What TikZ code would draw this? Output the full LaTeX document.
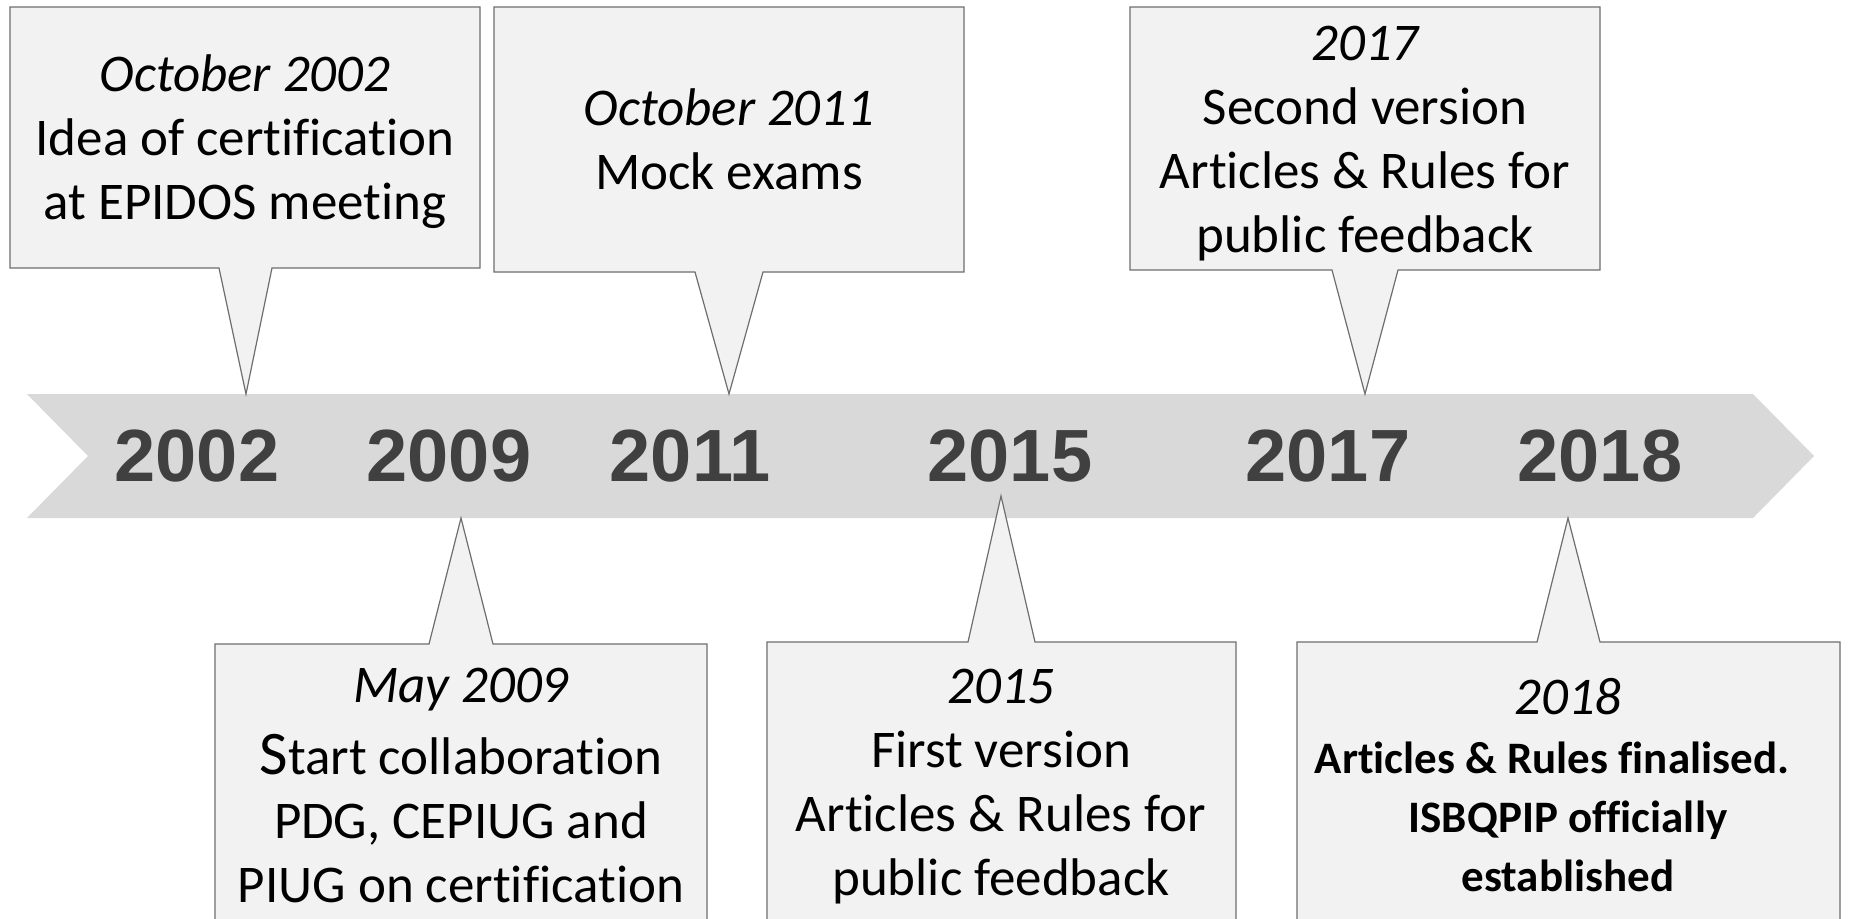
\documentclass[tikz,border=0pt]{standalone}
\usepackage{fontspec}
\setmainfont{Carlito}[Ligatures=NoCommon]
\newfontfamily\yearfont{Liberation Sans}
\definecolor{boxfill}{HTML}{F2F2F2}
\definecolor{boxline}{HTML}{6E6E6E}
\definecolor{bannerfill}{HTML}{D9D9D9}
\definecolor{yeargray}{HTML}{404040}
\begin{document}
\begin{tikzpicture}[x=0.5pt,y=-0.5pt,
  callout/.style={fill=boxfill,draw=boxline,line width=0.6pt,line join=miter},
  txt/.style={font=\fontsize{26.5}{32}\selectfont,align=center,anchor=base,inner sep=0pt,text=black},
  boldtxt/.style={font=\bfseries\fontsize{22.5}{29.5}\selectfont,align=center,anchor=base,inner sep=0pt,text=black},
  yr/.style={font=\yearfont\bfseries\fontsize{37}{37}\selectfont,text=yeargray,anchor=base,inner sep=0pt}]
\clip (0,0) rectangle (1853,918);
\fill[white] (0,0) rectangle (1853,918);
% banner
\fill[bannerfill] (27,394) -- (1753,394) -- (1814,456) -- (1753,518) -- (27,518) -- (88,456) -- cycle;
% tips
\coordinate (tip1) at (246,394);
\coordinate (tip2) at (729,394);
\coordinate (tip3) at (1365,394);
\coordinate (tip4) at (461,518);
\coordinate (tip5) at (1001,496);
\coordinate (tip6) at (1568,518);
% top callouts
\draw[callout] (10,7) -- (480,7) -- (480,268) -- (272,268) -- (tip1) -- (219,268) -- (10,268) -- cycle;
\draw[callout] (494,7) -- (964,7) -- (964,272) -- (763,272) -- (tip2) -- (695,272) -- (494,272) -- cycle;
\draw[callout] (1130,7) -- (1600,7) -- (1600,270) -- (1398,270) -- (tip3) -- (1332,270) -- (1130,270) -- cycle;
% bottom callouts
\draw[callout] (215,940) -- (215,644) -- (429,644) -- (tip4) -- (493,644) -- (707,644) -- (707,940) -- cycle;
\draw[callout] (767,940) -- (767,642) -- (968,642) -- (tip5) -- (1035,642) -- (1236,642) -- (1236,940) -- cycle;
\draw[callout] (1297,940) -- (1297,642) -- (1537,642) -- (tip6) -- (1600,642) -- (1840,642) -- (1840,940) -- cycle;
% texts (base anchor = baseline of the last line)
\node[txt] (t1) at (245,219) {\itshape October 2002\\Idea of certification\\at EPIDOS meeting};
\node[txt] (t2) at (729,189) {\itshape October 2011\\Mock exams};
\node[txt] (t3) at (1365,252) {\itshape 2017\\Second version\\Articles \& Rules for\\public feedback};
\node[txt] (t4) at (461,902) {\itshape May 2009\\[4pt]{\fontsize{31}{32}\selectfont S}tart collaboration\\PDG, CEPIUG and\\PIUG on certification};
\node[txt] (t5) at (1001,895) {\itshape 2015\\First version\\Articles \& Rules for\\public feedback};
\node[txt] (t6a) at (1568,714) {\itshape 2018};
\node[boldtxt] (t6b) at (1568,891) {Articles \& Rules finalised.\kern16pt\\ISBQPIP officially\\established};
% years
\node[yr] (y2002) at (197,481) {2002};
\node[yr] (y2009) at (449,481) {2009};
\node[yr] (y2011) at (690,481) {2011};
\node[yr] (y2015) at (1010,481) {2015};
\node[yr] (y2017) at (1328,481) {2017};
\node[yr] (y2018) at (1600,481) {2018};
\end{tikzpicture}
\end{document}
